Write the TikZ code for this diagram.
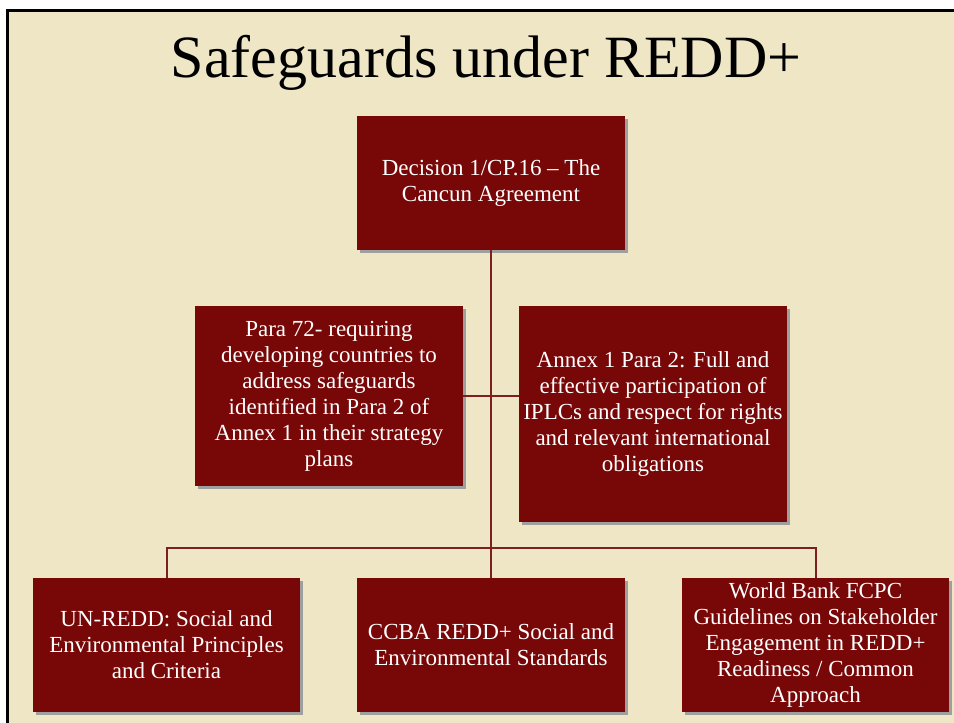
\documentclass[tikz,border=0pt]{standalone}
\usepackage{fontspec}
\setmainfont{Liberation Serif}
\usetikzlibrary{shadows}
\definecolor{parchment}{HTML}{EEE6C5}
\definecolor{boxred}{HTML}{780707}
\definecolor{linkred}{HTML}{7E1F1F}

\begin{document}
\begin{tikzpicture}[x=1pt,y=-1pt,
    box/.style={fill=boxred,text=white,align=center,inner sep=2pt,
      font=\fontsize{23}{26}\selectfont,minimum width=268pt,
      drop shadow={shadow xshift=3pt,shadow yshift=-3pt,fill=gray!75,opacity=1}},
    link/.style={draw=linkred,line width=2pt}]
            \useasboundingbox (0,0) rectangle (954,723);
            \fill[white] (0,0) rectangle (954,723);
            \fill[parchment] (7,10) rectangle (954,723);
            \draw[line width=3pt] (7,723) -- (7,10) -- (954,10);
            \node[anchor=base,font=\fontsize{60}{72}\selectfont] (title) at (486,77) {Safeguards under REDD+};
            % boxes
            \node[box,minimum height=134pt] (cancun) at (491,183) {Decision 1/CP.16 -- The\\Cancun Agreement};
            \node[box,minimum height=180pt] (para72) at (329,396) {Para 72- requiring\\developing countries to\\address safeguards\\identified in Para 2 of\\Annex 1 in their strategy\\plans};
            \node[box,minimum height=216pt] (annex) at (653,414) {Annex 1 Para 2: Full and\\effective participation of\\IPLCs and respect for rights\\and relevant international\\obligations};
            \node[box,minimum height=134pt,minimum width=267pt] (unredd) at (166.5,645) {UN-REDD: Social and\\Environmental Principles\\and Criteria};
            \node[box,minimum height=134pt] (ccba) at (491,645) {CCBA REDD+ Social and\\Environmental Standards};
            \node[box,minimum height=134pt,minimum width=267pt] (wbank) at (815.5,645) {World Bank FCPC\\Guidelines on Stakeholder\\Engagement in REDD+\\Readiness / Common\\Approach};
            % connectors
            \coordinate (bus) at (491,548);
            \draw[link] (cancun.south) -- (bus);
            \draw[link] (para72.east) -- (para72.east -| annex.west);
            \draw[link] (unredd.north) |- (bus) -| (wbank.north);
            \draw[link] (bus) -- (ccba.north);
        \end{tikzpicture}
\end{document}
